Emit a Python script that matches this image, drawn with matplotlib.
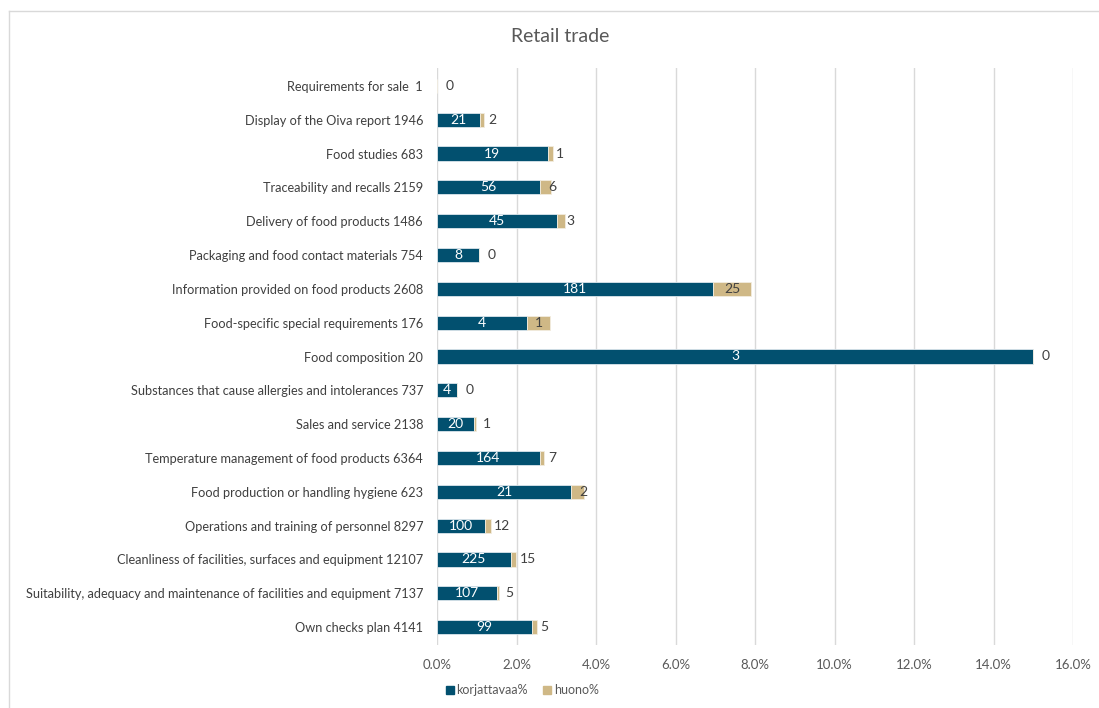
"""Retail trade: share of inspections graded korjattavaa / huono per subject."""

import matplotlib
matplotlib.use("Agg")
import matplotlib.pyplot as plt
from matplotlib.lines import Line2D
from matplotlib.ticker import FuncFormatter

plt.rcParams["font.family"] = ["Lato", "DejaVu Sans"]

# top-to-bottom as shown in the chart
CATEGORIES = [
    "Requirements for sale  1",
    "Display of the Oiva report 1946",
    "Food studies 683",
    "Traceability and recalls 2159",
    "Delivery of food products 1486",
    "Packaging and food contact materials 754",
    "Information provided on food products 2608",
    "Food-specific special requirements 176",
    "Food composition 20",
    "Substances that cause allergies and intolerances 737",
    "Sales and service 2138",
    "Temperature management of food products 6364",
    "Food production or handling hygiene 623",
    "Operations and training of personnel 8297",
    "Cleanliness of facilities, surfaces and equipment 12107",
    "Suitability, adequacy and maintenance of facilities and equipment 7137",
    "Own checks plan 4141",
]
KORJATTAVAA_PCT = [0.0, 1.08, 2.78, 2.59, 3.03, 1.06, 6.94, 2.27, 15.0, 0.50,
                   0.94, 2.58, 3.37, 1.21, 1.86, 1.50, 2.39]
HUONO_PCT = [0.0, 0.10, 0.15, 0.28, 0.20, 0.0, 0.96, 0.57, 0.0, 0.0,
             0.05, 0.11, 0.32, 0.14, 0.12, 0.07, 0.12]
KORJATTAVAA_N = [0, 21, 19, 56, 45, 8, 181, 4, 3, 4, 20, 164, 21, 100, 225, 107, 99]
HUONO_N = [0, 2, 1, 6, 3, 0, 25, 1, 0, 0, 1, 7, 2, 12, 15, 5, 5]

BLUE = "#02506F"
TAN = "#CFB886"
GRID = "#D9D9D9"
TEXT = "#595959"

fig = plt.figure(figsize=(10.99, 7.08), dpi=100)
ax = fig.add_axes([437 / 1099, 1 - 645 / 708, (1073 - 437) / 1099, (645 - 68) / 708])

n = len(CATEGORIES)
ypos = [n - 1 - i for i in range(n)]

ax.barh(ypos, KORJATTAVAA_PCT, height=0.42, color=BLUE, edgecolor="#DCE6EC",
        linewidth=0.6, zorder=3)
ax.barh(ypos, HUONO_PCT, left=KORJATTAVAA_PCT, height=0.42, color=TAN,
        edgecolor="#F2ECDF", linewidth=0.6, zorder=3)

ax.set_xlim(0, 16)
ax.set_ylim(-0.53, n - 0.47)
ax.set_xticks(range(0, 17, 2))
ax.xaxis.set_major_formatter(FuncFormatter(lambda v, _: f"{v:.1f}%"))
ax.set_yticks(ypos)
ax.set_yticklabels(CATEGORIES)
ax.tick_params(axis="x", length=0, pad=10, labelsize=9.5, labelcolor=TEXT)
ax.tick_params(axis="y", length=0, pad=10, labelsize=9.2, labelcolor="#404040")
ax.grid(axis="x", color=GRID, linewidth=1, zorder=0)
for s in ax.spines.values():
    s.set_visible(False)

# labels: counts inside the blue part, huono counts next to the tan part
px_per_unit = ax.bbox.width / 16
for y, k, h, kn, hn in zip(ypos, KORJATTAVAA_PCT, HUONO_PCT, KORJATTAVAA_N, HUONO_N):
    if k > 0:
        ax.text(k / 2, y, str(kn), ha="center", va="center", color="white",
                fontsize=10, zorder=4)
    w = h * px_per_unit
    center = k + h / 2
    if w > 18:
        ax.text(center, y, str(hn), ha="center", va="center", color="#404040",
                fontsize=10, zorder=4)
    else:
        off = max(2.0, 8.5 - w / 2)
        ax.annotate(str(hn), (center, y), xytext=(off, 0), textcoords="offset pixels",
                    ha="left", va="center", color="#404040", fontsize=10, zorder=4)

fig.text(560 / 1099, 1 - 37 / 708, "Retail trade", ha="center", va="center",
         fontsize=14, color=TEXT)

handles = [
    Line2D([], [], marker="s", linestyle="none", markersize=6, color=BLUE),
    Line2D([], [], marker="s", linestyle="none", markersize=6, color=TAN),
]
fig.legend(handles, ["korjattavaa%", "huono%"], loc="center",
           bbox_to_anchor=(521 / 1099, 1 - 690 / 708), ncol=2, frameon=False,
           fontsize=9, labelcolor=TEXT, handletextpad=0.0, columnspacing=1.1,
           handlelength=1.0, borderpad=0.2)

# outer chart border (top and left edges visible)
fig.add_artist(Line2D([8.5 / 1099, 8.5 / 1099], [0, 1 - 10.5 / 708],
                      transform=fig.transFigure, color=GRID, linewidth=1))
fig.add_artist(Line2D([8.5 / 1099, 1], [1 - 10.5 / 708, 1 - 10.5 / 708],
                      transform=fig.transFigure, color=GRID, linewidth=1))

fig.savefig("out.png", dpi=100)
